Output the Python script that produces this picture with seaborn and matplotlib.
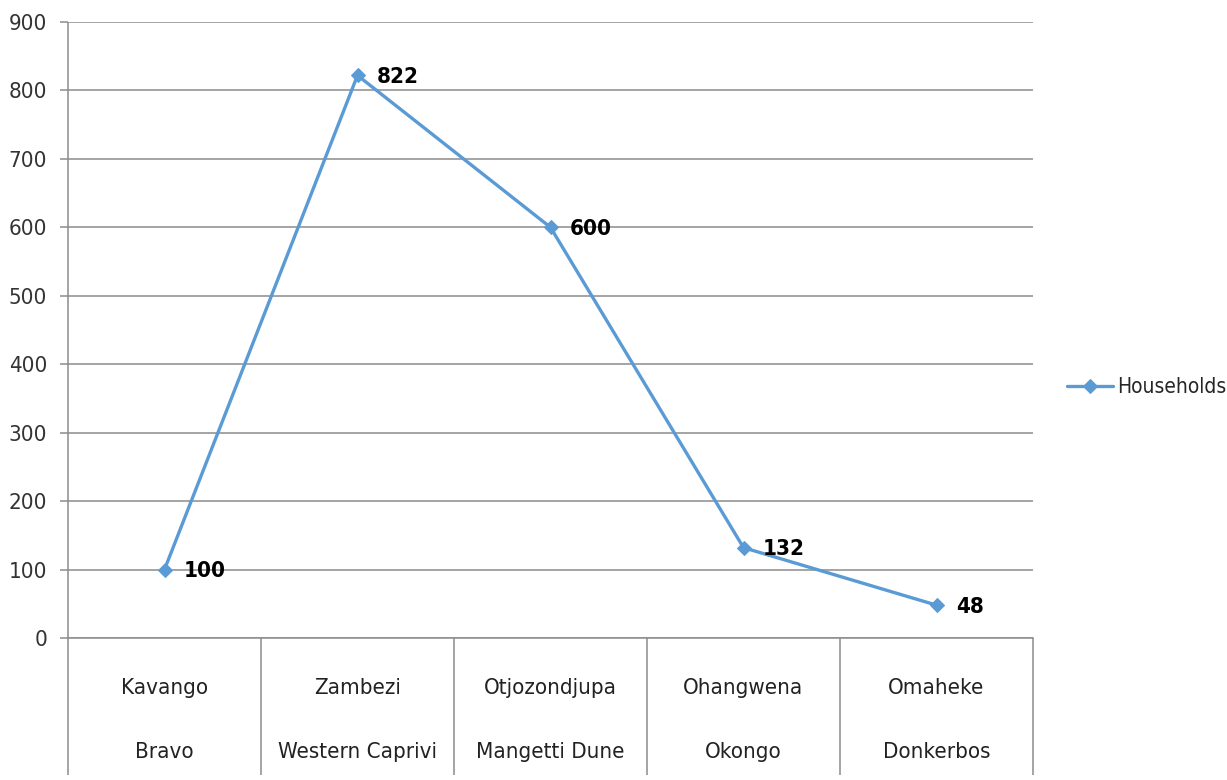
import pandas as pd
import numpy as np
import matplotlib.pyplot as plt
import seaborn as sns

regions = ['Kavango', 'Zambezi', 'Otjozondjupa', 'Ohangwena', 'Omaheke']
places = ['Bravo', 'Western Caprivi', 'Mangetti Dune', 'Okongo', 'Donkerbos']
households = [100, 822, 600, 132, 48]

df = pd.DataFrame({'pos': range(len(regions)), 'Households': households})

sns.set_style('white')
plt.rcParams['font.family'] = ['DejaVu Sans']
plt.rcParams['font.stretch'] = 'condensed'

blue = '#5B9BD5'
grid = '#8c8c8c'

fig = plt.figure(figsize=(12.27, 7.8), dpi=100)
ax = fig.add_axes([68 / 1227, 1 - 638 / 780, (1033 - 68) / 1227, (638 - 22) / 780])

sns.lineplot(data=df, x='pos', y='Households', marker='D', markersize=7, color=blue,
             linewidth=2.4, markeredgecolor=blue, label='Households', ax=ax)

for i, v in enumerate(households):
    ax.annotate(str(v), (i, v), xytext=(14, -1), textcoords='offset points',
                ha='left', va='center', fontsize=16, fontweight='bold', color='black')

ax.set_xlim(-0.5, len(regions) - 0.5)
ax.set_ylim(0, 900)
ax.set_yticks(range(0, 901, 100))
ax.yaxis.grid(True, color=grid, linewidth=1.1)
ax.set_axisbelow(True)
ax.set_xticks([])
ax.set_xlabel('')
ax.set_ylabel('')
for s in ['top', 'right', 'left']:
    ax.spines[s].set_visible(False)
ax.spines['bottom'].set_color(grid)
ax.spines['bottom'].set_linewidth(1.1)
ax.tick_params(axis='y', left=True, length=6, width=1.1, color=grid, labelsize=16, pad=9,
               labelcolor='#333333')

# two-level category axis with separators
trans = ax.get_xaxis_transform()
ax.vlines([-0.5], -0.222, 1, transform=trans, colors=grid, linewidth=1.1, clip_on=False)
ax.vlines(np.arange(0.5, len(regions)), -0.222, 0, transform=trans, colors=grid,
          linewidth=1.1, clip_on=False)
for i, (r, p) in enumerate(zip(regions, places)):
    ax.text(i, -0.081, r, transform=trans, ha='center', va='center', fontsize=16, color='#222222')
    ax.text(i, -0.185, p, transform=trans, ha='center', va='center', fontsize=16, color='#222222')

ax.legend(loc='center left', bbox_to_anchor=(1061 / 1227, 1 - 387 / 780),
          bbox_transform=fig.transFigure, frameon=False, fontsize=15,
          handlelength=2.2, handletextpad=0.2, borderaxespad=0, borderpad=0.3)

fig.savefig('out.png', dpi=100)
